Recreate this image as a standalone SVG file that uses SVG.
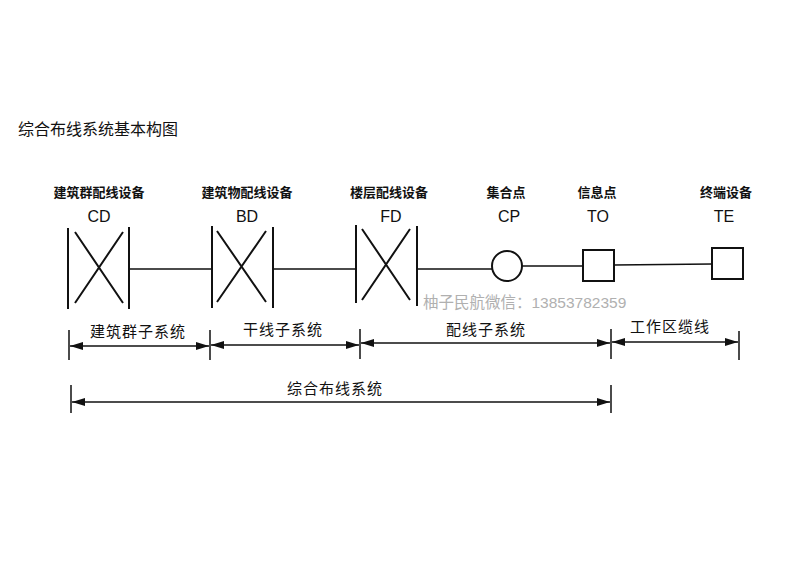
<svg xmlns="http://www.w3.org/2000/svg" width="800" height="566" viewBox="0 0 800 566">
<defs>
<style>
text{font-family:"Liberation Sans","Noto Sans CJK SC",sans-serif;fill:#111}
.t{font-size:16px}
.b{font-size:13px;font-weight:bold;text-anchor:middle}
.c{font-size:16px;text-anchor:middle}
.d{font-size:15px;text-anchor:middle;letter-spacing:1px}
.w{font-size:15.5px;fill:#b0b0b0}
.s{stroke:#111;stroke-width:2;fill:none}
.l{stroke:#111;stroke-width:1.7;fill:none}
.a{stroke:#111;stroke-width:1.5;fill:none;marker-start:url(#ah);marker-end:url(#ah)}
.k{stroke:#111;stroke-width:1.5}
</style>
<marker id="ah" viewBox="0 0 13 8" refX="13" refY="4" markerWidth="13" markerHeight="8" markerUnits="userSpaceOnUse" orient="auto-start-reverse">
<path d="M0,0 L13,4 L0,8 Z" fill="#111"/>
</marker>
</defs>
<rect width="800" height="566" fill="#fff"/>
<text class="t" x="18" y="135">综合布线系统基本构图</text>

<g id="CD">
<text class="b" x="99" y="197">建筑群配线设备</text>
<text class="c" x="99" y="222">CD</text>
<path class="s" d="M68,228V309M129,227V309M75,232L123,303M123,232L75,303"/>
</g>
<g id="BD">
<text class="b" x="247" y="197">建筑物配线设备</text>
<text class="c" x="247" y="222">BD</text>
<path class="s" d="M212,226V308M273,227V308M217,231L266,302M266,231L217,302"/>
</g>
<g id="FD">
<text class="b" x="389" y="197">楼层配线设备</text>
<text class="c" x="391" y="222">FD</text>
<path class="s" d="M356,225V303M417,226V306M362,229L410,300M410,229L362,300"/>
</g>
<g id="CP">
<text class="b" x="506" y="197">集合点</text>
<text class="c" x="509" y="222">CP</text>
<circle class="s" cx="507" cy="266" r="15"/>
</g>
<g id="TO">
<text class="b" x="597" y="197">信息点</text>
<text class="c" x="598" y="222">TO</text>
<rect class="s" x="583" y="250" width="31" height="31"/>
</g>
<g id="TE">
<text class="b" x="726" y="197">终端设备</text>
<text class="c" x="724" y="222">TE</text>
<rect class="s" x="712" y="248" width="31" height="31"/>
</g>

<g id="connectors">
<path class="l" d="M129,269H212M273,269H356M417,269H492M522,266H583M614,265L712,264"/>
</g>

<text class="w" x="423" y="308">柚子民航微信：13853782359</text>

<g id="dimensions">
<path class="k" d="M69,330V360M210,330V360M360,329V359M611,329V359M739,331V360M71,385V413M611,385V413"/>
<line class="a" x1="70" y1="346" x2="209" y2="346"/>
<line class="a" x1="211" y1="345" x2="359" y2="345"/>
<line class="a" x1="361" y1="343" x2="610" y2="343"/>
<line class="a" x1="612" y1="342" x2="738" y2="342"/>
<line class="a" x1="72" y1="402" x2="610" y2="402"/>
<text class="d" x="138" y="337">建筑群子系统</text>
<text class="d" x="283" y="335">干线子系统</text>
<text class="d" x="486" y="335">配线子系统</text>
<text class="d" x="670" y="332">工作区缆线</text>
<text class="d" x="335" y="394">综合布线系统</text>
</g>
</svg>
